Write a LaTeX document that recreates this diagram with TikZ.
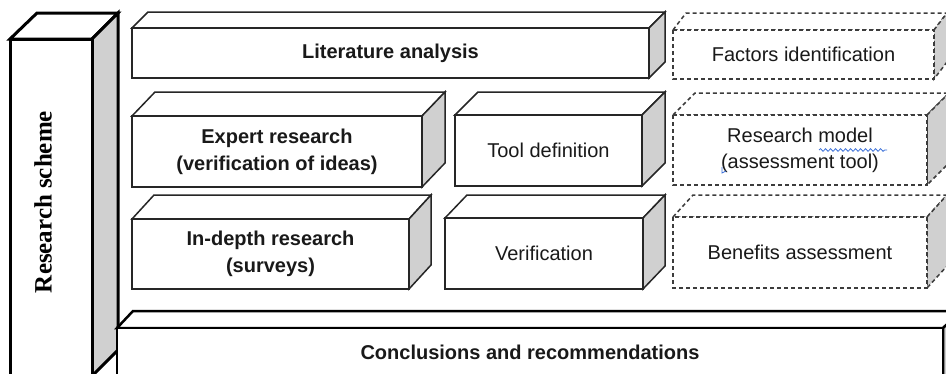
\documentclass[tikz,border=0pt]{standalone}
\usepackage{graphicx}
\usepackage{fontspec}
\setmainfont{Liberation Sans}
\newfontfamily\colserif{Liberation Serif}
\usetikzlibrary{decorations.pathmorphing}
\definecolor{sidegray}{HTML}{D0D0D0}
\definecolor{edgecol}{HTML}{262626}
\definecolor{dashcol}{HTML}{3C3C3C}
\definecolor{spellblue}{HTML}{3A6FD8}
\tikzset{
  solidbox/.style={draw=edgecol, line width=1.5pt, line join=miter},
  dashbox/.style={draw=dashcol, line width=1.5pt, dash pattern=on 4pt off 3pt},
  heavybox/.style={draw=black, line width=3pt, line join=miter},
  concbox/.style={draw=black, line width=2.5pt, line join=miter},
  txt/.style={font=\fontsize{20}{26}\selectfont, align=center, inner sep=0pt, text=black!90},
  boldtxt/.style={txt, font=\fontsize{20}{27}\selectfont\bfseries},
  coltxt/.style={inner sep=0pt, rotate=90},
  squiggle/.style={draw=spellblue, line width=0.8pt, decorate, decoration={snake, amplitude=1.3pt, segment length=5pt}}
}
% #1 name, #2 x1, #3 y1, #4 x2, #5 y2, #6 dx, #7 dy, #8 style, #9 text style + text
\newcommand\mycuboid[9]{%
  \draw[#8, fill=white] (#2,#3) -- (#2+#6,#3-#7) -- (#4+#6,#3-#7) -- (#4,#3) -- cycle;
  \draw[#8, fill=sidegray] (#4,#3) -- (#4+#6,#3-#7) -- (#4+#6,#5-#7) -- (#4,#5) -- cycle;
  \draw[#8, fill=white] (#2,#3) rectangle (#4,#5);
  \node[#9] (#1) at ({(#2+#4)/2},{(#3+#5)/2})
}
\begin{document}
\begin{tikzpicture}[x=1pt,y=-1pt]
\useasboundingbox (0,0) rectangle (946,373);
\clip (0,0) rectangle (946,373);
\fill[white] (0,0) rectangle (946,373);

% left column
\draw[heavybox, fill=white] (10,39) -- (37,13) -- (118,13) -- (92,39) -- cycle;
\draw[heavybox, fill=sidegray] (92,39) -- (118,13) -- (118,350) -- (92,376) -- cycle;
\draw[heavybox, fill=white] (10,39) rectangle (92,385);
\node[coltxt] (col) at (43,202) {\resizebox{182pt}{!}{\colserif\bfseries\fontsize{23}{27}\selectfont Research scheme}};

% row 1
\mycuboid{lit}{132}{28}{649}{78}{16}{16}{solidbox}{boldtxt} {Literature analysis};
\mycuboid{fac}{673}{30}{934}{79}{13}{17}{dashbox}{txt} {Factors identification};

% row 2
\mycuboid{exp}{132}{116}{422}{187}{23}{24}{solidbox}{boldtxt} {Expert research\\(verification of ideas)};
\mycuboid{tool}{455}{115}{642}{186}{23}{23}{solidbox}{txt} {Tool definition};
\mycuboid{model}{673}{115}{927}{185}{22}{22}{dashbox}{txt} {Research model\\(assessment tool)};

% row 3
\mycuboid{indepth}{132}{219}{409}{289}{22}{24}{solidbox}{boldtxt} {In-depth research\\(surveys)};
\mycuboid{verif}{445}{218}{643}{289}{22}{23}{solidbox}{txt} {Verification};
\mycuboid{benef}{673}{217}{927}{288}{20}{22}{dashbox}{txt} {Benefits assessment};

% bottom bar
\draw[concbox, fill=white] (117,328) -- (133,311) -- (962,311) -- (943,328) -- cycle;
\draw[concbox, fill=sidegray] (943,328) -- (962,311) -- (962,390) -- (943,390) -- cycle;
\draw[concbox, fill=white] (117,328) rectangle (943,390);
\node[boldtxt] (concl) at (530,352) {Conclusions and recommendations};

% spell-check marks
\draw[squiggle] (819,150) -- (887,150);
\draw[draw=spellblue, line width=0.8pt] (722,167) -- (722,173) -- (726,171);
\end{tikzpicture}
\end{document}
